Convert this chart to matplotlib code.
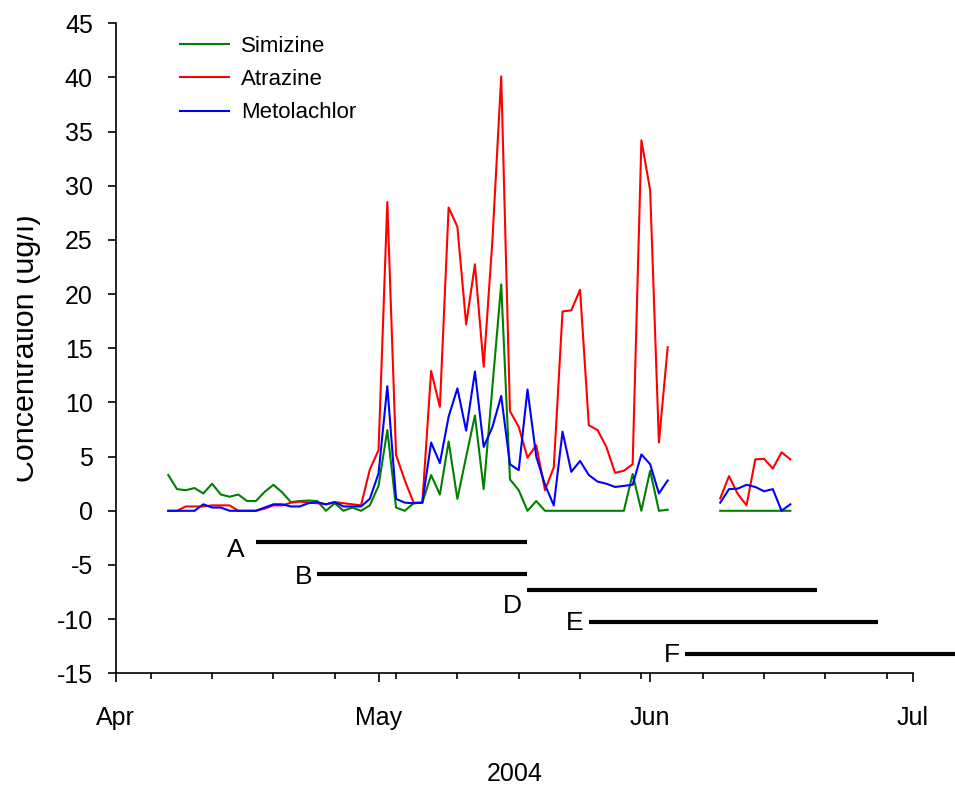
import numpy as np
import pandas as pd
import matplotlib
matplotlib.use("Agg")
import matplotlib.pyplot as plt
import matplotlib.dates as mdates
from matplotlib.patches import Rectangle

plt.rcParams['font.family'] = ['Liberation Sans', 'DejaVu Sans']
plt.rcParams['axes.unicode_minus'] = False

# sampling dates: two runs with a gap in early June
dates_1 = pd.date_range("2004-04-07", "2004-06-03", freq="D")
dates_2 = pd.date_range("2004-06-09", "2004-06-17", freq="D")

simazine_1 = [3.3, 2.0, 1.9, 2.1, 1.6, 2.5, 1.5, 1.3, 1.5, 0.9, 0.9, 1.75, 2.4, 1.7,
              0.8, 0.9, 0.95, 0.9, 0.0, 0.7, 0.0, 0.3, 0.0, 0.5, 2.3, 7.45, 0.3, 0.0,
              0.7, 0.75, 3.3, 1.5, 6.4, 1.1, 5.0, 8.8, 2.0, 11.5, 20.9, 2.9, 1.9, 0.0,
              0.9, 0.0, 0.0, 0.0, 0.0, 0.0, 0.0, 0.0, 0.0, 0.0, 0.0, 3.4, 0.0, 3.7,
              0.0, 0.1]
atrazine_1 = [0.0, 0.0, 0.4, 0.4, 0.4, 0.5, 0.5, 0.5, 0.0, 0.0, 0.0, 0.2, 0.5, 0.5,
              0.75, 0.85, 0.75, 0.7, 0.6, 0.8, 0.7, 0.6, 0.5, 3.8, 5.6, 28.5, 5.15, 2.8,
              0.75, 0.75, 12.9, 9.6, 28.0, 26.2, 17.2, 22.75, 13.3, 25.0, 40.1, 9.2, 7.75, 4.9,
              6.05, 1.9, 4.0, 18.4, 18.5, 20.4, 7.9, 7.45, 5.9, 3.5, 3.7, 4.3, 34.2, 29.6,
              6.3, 15.1]
metolachlor_1 = [0.0, 0.0, 0.0, 0.0, 0.6, 0.3, 0.3, 0.0, 0.0, 0.0, 0.0, 0.3, 0.6, 0.6,
                 0.4, 0.4, 0.7, 0.8, 0.6, 0.8, 0.4, 0.4, 0.4, 1.1, 3.45, 11.5, 1.1, 0.75,
                 0.7, 0.75, 6.3, 4.4, 8.7, 11.3, 7.4, 12.85, 5.9, 7.75, 10.6, 4.3, 3.75, 11.2,
                 5.0, 2.4, 0.5, 7.3, 3.6, 4.6, 3.3, 2.7, 2.5, 2.2, 2.3, 2.4, 5.2, 4.3,
                 1.6, 2.8]

simazine_2 = [0, 0, 0, 0, 0, 0, 0, 0, 0]
atrazine_2 = [1.15, 3.2, 1.55, 0.5, 4.75, 4.8, 3.9, 5.4, 4.75]
metolachlor_2 = [0.75, 2.0, 2.05, 2.4, 2.2, 1.8, 2.0, 0.0, 0.6]

# sampling periods drawn below zero
period_labels = ["A", "B", "D", "E", "F"]
period_start = ["2004-04-17", "2004-04-24", "2004-05-18", "2004-05-25", "2004-06-05"]
period_end = ["2004-05-18", "2004-05-18", "2004-06-20", "2004-06-27", "2004-07-12"]
period_level = [-2.9, -5.85, -7.3, -10.3, -13.2]
label_level = [-3.6, -6.1, -8.8, -10.4, -13.3]
label_gap = [1.3, 0.6, 0.6, 0.6, 0.6]  # days between letter and bar

# one frame with a NaN gap so the lines break
df = pd.DataFrame({
    "Simizine": simazine_1 + simazine_2,
    "Atrazine": atrazine_1 + atrazine_2,
    "Metolachlor": metolachlor_1 + metolachlor_2,
}, index=dates_1.append(dates_2))
df = df.reindex(pd.date_range(dates_1[0], dates_2[-1], freq="D"))

colors = {"Simizine": "#008000", "Atrazine": "#ff0000", "Metolachlor": "#0000ff"}

fig = plt.figure(figsize=(9.55, 7.87), dpi=100)
ax = fig.add_axes([115.7 / 955, 1 - 673.3 / 787, (913 - 115.7) / 955, 650 / 787])

for name in ["Simizine", "Atrazine", "Metolachlor"]:
    ax.plot(df.index, df[name], color=colors[name], lw=1.5, label=name)

for lab, s, e, lvl, ly, gap in zip(period_labels, period_start, period_end,
                                   period_level, label_level, label_gap):
    s, e = pd.Timestamp(s), pd.Timestamp(e)
    ax.plot([s, e], [lvl, lvl], color="black", lw=3, clip_on=False, solid_capstyle="butt")
    ax.text(s - pd.Timedelta(days=gap), ly, lab, ha="right", va="center", fontsize=19)

ax.set_xlim(pd.Timestamp("2004-04-01"), pd.Timestamp("2004-07-01"))
ax.set_ylim(-15, 45)
ax.set_yticks(np.arange(-15, 46, 5))

ax.xaxis.set_major_locator(mdates.MonthLocator())
ax.xaxis.set_major_formatter(mdates.DateFormatter("%b"))
ax.xaxis.set_minor_locator(mdates.WeekdayLocator(byweekday=mdates.MO))

for side in ["top", "right"]:
    ax.spines[side].set_visible(False)
for side in ["left", "bottom"]:
    ax.spines[side].set_linewidth(1.2)

ax.tick_params(axis="y", which="major", direction="out", length=5.5, width=1.2,
               pad=11, labelsize=18)
ax.tick_params(axis="x", which="major", direction="out", length=6.5, width=1.2,
               pad=17, labelsize=18)
ax.tick_params(axis="x", which="minor", direction="out", length=4, width=1.2)

ax.set_xlabel("2004", fontsize=18, labelpad=23)

# y label runs off the left edge in the original: white strip hides its top
fig.text(26 / 955, 1 - 348 / 787, "Concentration (ug/l)", rotation=90,
         ha="center", va="center", fontsize=22)
fig.patches.append(Rectangle((0, 0), 17 / 955, 1, transform=fig.transFigure,
                             facecolor="white", edgecolor="none", zorder=10))

ax.legend(loc="upper left", bbox_to_anchor=(180 / 955, 1 - 36 / 787),
          bbox_transform=fig.transFigure, frameon=False, fontsize=16,
          handlelength=2.2, handletextpad=0.55, labelspacing=0.55,
          borderpad=0, borderaxespad=0)

fig.savefig("out.png", dpi=100)
